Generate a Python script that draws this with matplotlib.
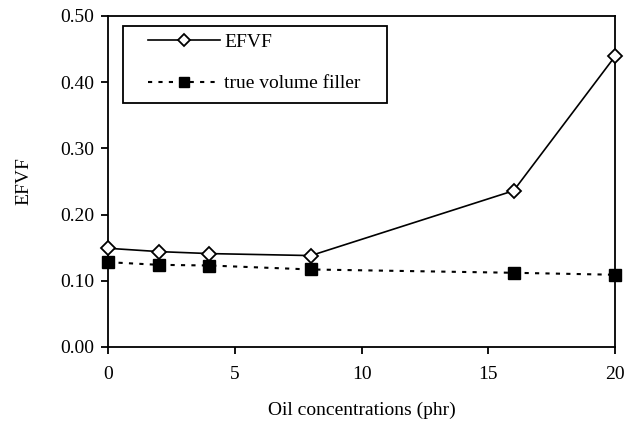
import matplotlib
matplotlib.use("Agg")
import matplotlib.pyplot as plt
from matplotlib.patches import Rectangle

plt.rcParams['font.family'] = ['Liberation Serif', 'DejaVu Serif']

oil_phr = [0, 2, 4, 8, 16, 20]
efvf = [0.149, 0.144, 0.141, 0.138, 0.236, 0.439]
true_filler = [0.128, 0.124, 0.123, 0.117, 0.112, 0.109]

fig = plt.figure(figsize=(6.36, 4.21), dpi=100)
ax = fig.add_axes([0.170, 0.176, 0.797, 0.786])

ax.plot(oil_phr, efvf, color='black', lw=1.2, marker='D', ms=7,
        mfc='white', mec='black', mew=1.3, label='EFVF', clip_on=False, zorder=3)
ax.plot(oil_phr, true_filler, color='black', lw=1.5, ls=(0, (2, 3)), marker='s',
        ms=8.5, mfc='black', mec='black', label='true volume filler',
        clip_on=False, zorder=3)

ax.set_xlim(0, 20)
ax.set_ylim(0, 0.5)
ax.set_xticks([0, 5, 10, 15, 20])
ax.set_yticks([0, 0.1, 0.2, 0.3, 0.4, 0.5])
ax.set_yticklabels(['%.2f' % v for v in ax.get_yticks()])
ax.tick_params(direction='out', length=5, width=1.3, labelsize=14, pad=5)
ax.tick_params(axis='x', pad=9)
for s in ax.spines.values():
    s.set_linewidth(1.3)

ax.set_xlabel('Oil concentrations (phr)', fontsize=14, labelpad=13)
ax.set_ylabel('EFVF', fontsize=14, labelpad=20)

# legend box drawn separately so the side padding can be wider than the top
ax.add_patch(Rectangle((0.0296, 0.737), 0.520, 0.233, transform=ax.transAxes,
                       fill=False, ec='black', lw=1.3, zorder=4))
ax.legend(loc='upper left', bbox_to_anchor=(0.0789, 0.947), fontsize=14,
          frameon=False, handlelength=3.7, labelspacing=1.22, borderpad=0,
          borderaxespad=0, handletextpad=0.2, markerscale=0.85)

fig.savefig('out.png', dpi=100)
